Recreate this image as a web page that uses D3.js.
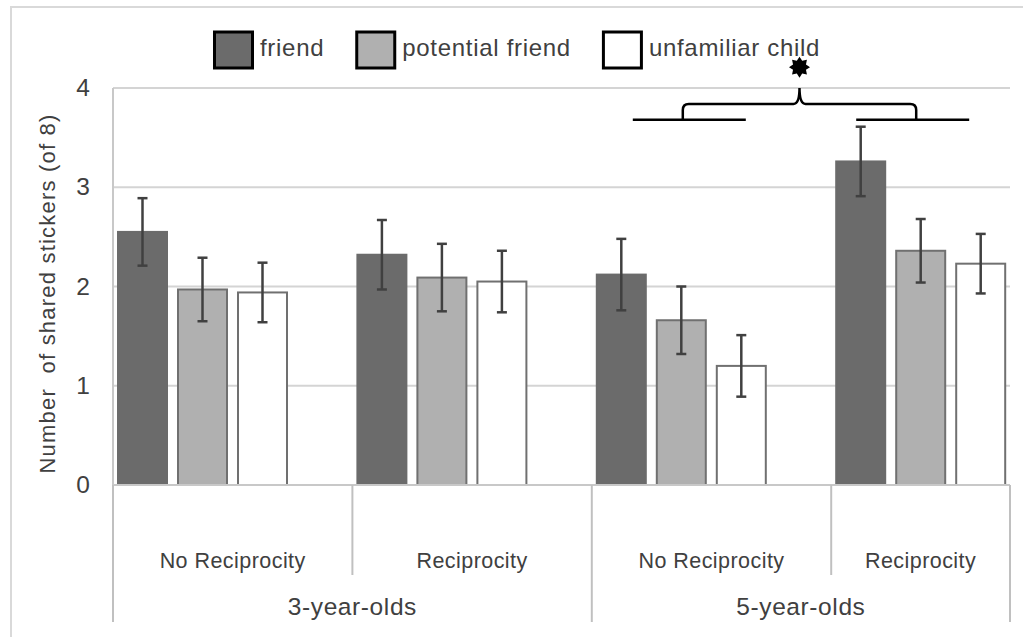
<!DOCTYPE html>
<html>
<head>
<meta charset="utf-8">
<script src="https://cdn.jsdelivr.net/npm/d3@7"></script>
<style>
body{margin:0;background:#fff;}
svg{display:block;font-family:"Liberation Sans",Arial,sans-serif;}
</style>
</head>
<body>
<div id="chart"></div>
<script>
// data
var ages = ["3-year-olds","5-year-olds"];
var conditions = ["No Reciprocity","Reciprocity"];
var seriesNames = ["friend","potential friend","unfamiliar child"];
var friendMeans    = [2.55,2.32,2.12,3.26];
var potentialMeans = [1.97,2.09,1.66,2.36];
var unfamiliarMeans= [1.94,2.05,1.20,2.23];
var friendErr      = [0.34,0.35,0.36,0.35];
var potentialErr   = [0.32,0.34,0.34,0.32];
var unfamiliarErr  = [0.30,0.31,0.31,0.30];
var yTicks = [0,1,2,3,4];
var yTitle = "Number  of shared stickers (of 8)";

var colors = ["#6b6b6b","#b0b0b0","#ffffff"];
var strokes = ["#6b6b6b","#707070","#707070"];

var width = 1023, height = 637;
var plot = {left:113,right:1010,top:88,bottom:485};
var groupStep = 239.4;

var groups = [];
ages.forEach(function(a,ai){
    conditions.forEach(function(c,ci){
        groups.push({key:ai+"-"+ci,age:a,cond:c,index:groups.length});
    });
});
var means = [friendMeans,potentialMeans,unfamiliarMeans];
var errs = [friendErr,potentialErr,unfamiliarErr];

var svg = d3.select("#chart").append("svg")
    .attr("width",width).attr("height",height);

// outer frame (cropped on right/bottom)
svg.append("rect")
    .attr("x",11).attr("y",7)
    .attr("width",1040).attr("height",660)
    .attr("fill","none").attr("stroke","#d9d9d9").attr("stroke-width",2);

var x0 = d3.scaleBand()
    .domain(groups.map(function(g){return g.key;}))
    .range([plot.left,plot.left+groupStep*groups.length]);
var x1 = d3.scaleBand()
    .domain(seriesNames)
    .range([4,175])
    .paddingInner(0.15);
var y = d3.scaleLinear().domain([0,4]).range([plot.bottom,plot.top]);

// gridlines
svg.append("g").selectAll("line")
    .data(yTicks.filter(function(t){return t>0;}))
    .enter().append("line")
    .attr("x1",plot.left).attr("x2",plot.right)
    .attr("y1",function(d){return y(d);}).attr("y2",function(d){return y(d);})
    .attr("stroke","#d4d4d4").attr("stroke-width",2);

// y axis line
svg.append("line")
    .attr("x1",plot.left).attr("x2",plot.left)
    .attr("y1",plot.top).attr("y2",plot.bottom)
    .attr("stroke","#c8c8c8").attr("stroke-width",2);

// y tick labels
svg.append("g").selectAll("text")
    .data(yTicks)
    .enter().append("text")
    .text(function(d){return d;})
    .attr("x",90)
    .attr("y",function(d){return y(d)+8;})
    .attr("text-anchor","end")
    .attr("font-size","24.5px")
    .attr("fill","#404040");

svg.append("text")
    .text(yTitle)
    .attr("transform","translate(55,"+((plot.top+plot.bottom)/2+7)+") rotate(-90)")
    .attr("text-anchor","middle")
    .attr("font-size","22px")
    .attr("letter-spacing","1.2px")
    .attr("fill","#404040")
    .style("white-space","pre");

// bars
var gbars = svg.append("g").selectAll("g")
    .data(groups)
    .enter().append("g")
    .attr("transform",function(g){return "translate("+x0(g.key)+",0)";});

gbars.selectAll("rect")
    .data(function(g){
        return seriesNames.map(function(s,si){
            return {s:s,si:si,v:means[si][g.index],e:errs[si][g.index]};
        });
    })
    .enter().append("rect")
    .attr("x",function(d){return x1(d.s)+1;})
    .attr("y",function(d){return y(d.v);})
    .attr("width",x1.bandwidth()-2)
    .attr("height",function(d){return y(0)-y(d.v);})
    .attr("fill",function(d){return colors[d.si];})
    .attr("stroke",function(d){return strokes[d.si];})
    .attr("stroke-width",2);

// error bars
var eb = gbars.selectAll("g.err")
    .data(function(g){
        return seriesNames.map(function(s,si){
            return {s:s,si:si,v:means[si][g.index],e:errs[si][g.index]};
        });
    })
    .enter().append("g").attr("class","err")
    .attr("stroke","#404040").attr("stroke-width",2.5);
eb.append("line")
    .attr("x1",function(d){return x1(d.s)+x1.bandwidth()/2;})
    .attr("x2",function(d){return x1(d.s)+x1.bandwidth()/2;})
    .attr("y1",function(d){return y(d.v+d.e);})
    .attr("y2",function(d){return y(d.v-d.e);});
[1,-1].forEach(function(sign){
    eb.append("line")
        .attr("x1",function(d){return x1(d.s)+x1.bandwidth()/2-5;})
        .attr("x2",function(d){return x1(d.s)+x1.bandwidth()/2+5;})
        .attr("y1",function(d){return y(d.v+sign*d.e);})
        .attr("y2",function(d){return y(d.v+sign*d.e);});
});

// baseline
svg.append("line")
    .attr("x1",plot.left).attr("x2",plot.right)
    .attr("y1",plot.bottom).attr("y2",plot.bottom)
    .attr("stroke","#c8c8c8").attr("stroke-width",2);

// category axis separators
var seps = groups.map(function(g){return {x:x0(g.key),full:g.index%2==0};});
seps.push({x:plot.right,full:true});
svg.append("g").selectAll("line")
    .data(seps)
    .enter().append("line")
    .attr("x1",function(d){return d.x;}).attr("x2",function(d){return d.x;})
    .attr("y1",plot.bottom)
    .attr("y2",function(d){return d.full?622:575;})
    .attr("stroke","#c0c0c0").attr("stroke-width",2);

svg.append("g").selectAll("text")
    .data(groups)
    .enter().append("text")
    .text(function(g){return g.cond;})
    .attr("x",function(g){
        var a = x0(g.key);
        var b = Math.min(a+x0.step(),plot.right);
        return (a+b)/2;
    })
    .attr("y",568)
    .attr("text-anchor","middle")
    .attr("font-size","21.5px")
    .attr("letter-spacing","0.45px")
    .attr("fill","#404040");

svg.append("g").selectAll("text")
    .data(ages)
    .enter().append("text")
    .text(function(a){return a;})
    .attr("x",function(a,i){
        var a0 = x0(groups[i*2].key);
        var b0 = Math.min(a0+2*x0.step(),plot.right);
        return (a0+b0)/2;
    })
    .attr("y",615)
    .attr("text-anchor","middle")
    .attr("font-size","24.5px")
    .attr("letter-spacing","0.6px")
    .attr("fill","#404040");

// legend
var lx = 213;
seriesNames.forEach(function(s,i){
    svg.append("rect")
        .attr("x",lx+1.5).attr("y",32)
        .attr("width",38).attr("height",36)
        .attr("fill",colors[i])
        .attr("stroke","#000").attr("stroke-width",3);
    var t = svg.append("text")
        .text(s)
        .attr("x",lx+47).attr("y",56)
        .attr("font-size","24px")
        .attr("letter-spacing","0.7px")
        .attr("fill","#404040")
        .style("white-space","pre");
    lx += 47+t.node().getComputedTextLength()+31;
});

// significance annotation over 5-year-olds
var gNR = x0(groups[2].key), gR = x0(groups[3].key);
var lineY = y(3.68), braceY = y(3.84), tipY = y(4.0);
var bl = gNR+91, br = gR+85, bm = (bl+br)/2;
var ann = svg.append("g").attr("fill","none").attr("stroke","#000").attr("stroke-width",2.5);
ann.append("line").attr("x1",gNR+41).attr("x2",gNR+154).attr("y1",lineY).attr("y2",lineY);
ann.append("line").attr("x1",gR+25).attr("x2",gR+138).attr("y1",lineY).attr("y2",lineY);
var p = d3.path();
p.moveTo(bl,lineY);
p.lineTo(bl,braceY+6);
p.quadraticCurveTo(bl,braceY,bl+6,braceY);
p.lineTo(bm-6,braceY);
p.quadraticCurveTo(bm,braceY,bm,tipY);
p.quadraticCurveTo(bm,braceY,bm+6,braceY);
p.lineTo(br-6,braceY);
p.quadraticCurveTo(br,braceY,br,braceY+6);
p.lineTo(br,lineY);
ann.append("path").attr("d",p.toString());

var starPts = d3.range(16).map(function(i){
    return [i*Math.PI/8, i%2==0?10.5:7];
});
svg.append("path")
    .attr("d",d3.lineRadial().curve(d3.curveLinearClosed)(starPts))
    .attr("transform","translate("+bm+","+y(4.21)+")")
    .attr("fill","#000");
</script>
</body>
</html>
